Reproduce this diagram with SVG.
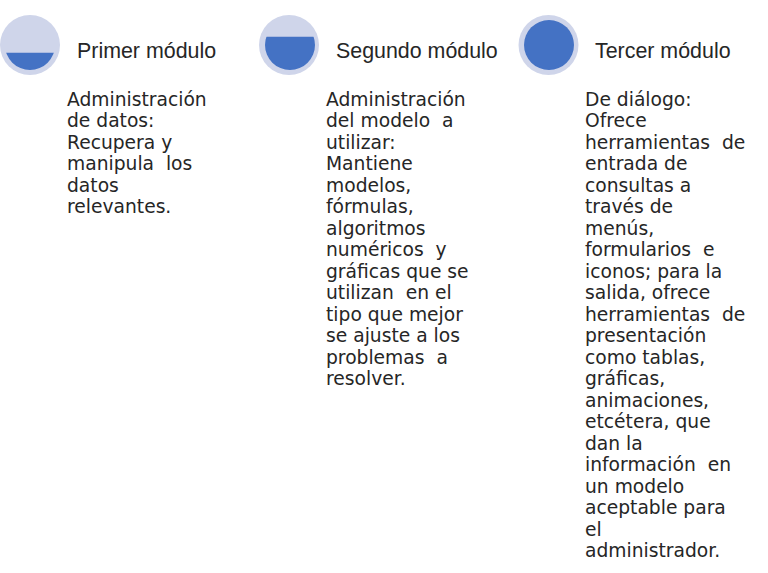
<svg xmlns="http://www.w3.org/2000/svg" width="768" height="573" viewBox="0 0 768 573">
<style>
.outer{fill:#CFD5EA}
.blue{fill:#4472C4}
.title{font-family:"Liberation Sans",Arial,sans-serif;font-size:21.4px;fill:#262626}
.body{font-family:"DejaVu Sans",Verdana,sans-serif;font-size:18.7px;fill:#262626;white-space:pre}
</style>
<defs>
<clipPath id="c1"><rect x="0" y="52.7" width="70" height="30"/></clipPath>
<clipPath id="c2"><rect x="255" y="36.7" width="70" height="40"/></clipPath>
</defs>
<rect width="768" height="573" fill="#ffffff"/>
<g id="node1">
<circle class="outer" cx="30" cy="45" r="30"/>
<circle class="blue" cx="30" cy="45" r="25" clip-path="url(#c1)"/>
<text class="title" x="77" y="58">Primer módulo</text>
<text class="body">
<tspan x="67" y="105.5">Administración</tspan>
<tspan x="67" y="127">de datos:</tspan>
<tspan x="67" y="148.5">Recupera y</tspan>
<tspan x="67" y="170">manipula  los</tspan>
<tspan x="67" y="191.5">datos</tspan>
<tspan x="67" y="213">relevantes.</tspan>
</text>
</g>
<g id="node2">
<circle class="outer" cx="289" cy="45" r="30"/>
<circle class="blue" cx="290" cy="45" r="25" clip-path="url(#c2)"/>
<text class="title" x="336" y="58">Segundo módulo</text>
<text class="body">
<tspan x="326" y="105.5">Administración</tspan>
<tspan x="326" y="127">del modelo  a</tspan>
<tspan x="326" y="148.5">utilizar:</tspan>
<tspan x="326" y="170">Mantiene</tspan>
<tspan x="326" y="191.5">modelos,</tspan>
<tspan x="326" y="213">fórmulas,</tspan>
<tspan x="326" y="234.5">algoritmos</tspan>
<tspan x="326" y="256">numéricos  y</tspan>
<tspan x="326" y="277.5">gráficas que se</tspan>
<tspan x="326" y="299">utilizan  en el</tspan>
<tspan x="326" y="320.5">tipo que mejor</tspan>
<tspan x="326" y="342">se ajuste a los</tspan>
<tspan x="326" y="363.5">problemas  a</tspan>
<tspan x="326" y="385">resolver.</tspan>
</text>
</g>
<g id="node3">
<circle class="outer" cx="548.5" cy="45" r="30"/>
<circle class="blue" cx="549" cy="45" r="25"/>
<text class="title" x="595" y="58">Tercer módulo</text>
<text class="body">
<tspan x="585" y="105.5">De diálogo:</tspan>
<tspan x="585" y="127">Ofrece</tspan>
<tspan x="585" y="148.5">herramientas  de</tspan>
<tspan x="585" y="170">entrada de</tspan>
<tspan x="585" y="191.5">consultas a</tspan>
<tspan x="585" y="213">través de</tspan>
<tspan x="585" y="234.5">menús,</tspan>
<tspan x="585" y="256">formularios  e</tspan>
<tspan x="585" y="277.5">iconos; para la</tspan>
<tspan x="585" y="299">salida, ofrece</tspan>
<tspan x="585" y="320.5">herramientas  de</tspan>
<tspan x="585" y="342">presentación</tspan>
<tspan x="585" y="363.5">como tablas,</tspan>
<tspan x="585" y="385">gráficas,</tspan>
<tspan x="585" y="406.5">animaciones,</tspan>
<tspan x="585" y="428">etcétera, que</tspan>
<tspan x="585" y="449.5">dan la</tspan>
<tspan x="585" y="471">información  en</tspan>
<tspan x="585" y="492.5">un modelo</tspan>
<tspan x="585" y="514">aceptable para</tspan>
<tspan x="585" y="535.5">el</tspan>
<tspan x="585" y="557">administrador.</tspan>
</text>
</g>
<g id="connectors"/>
</svg>
